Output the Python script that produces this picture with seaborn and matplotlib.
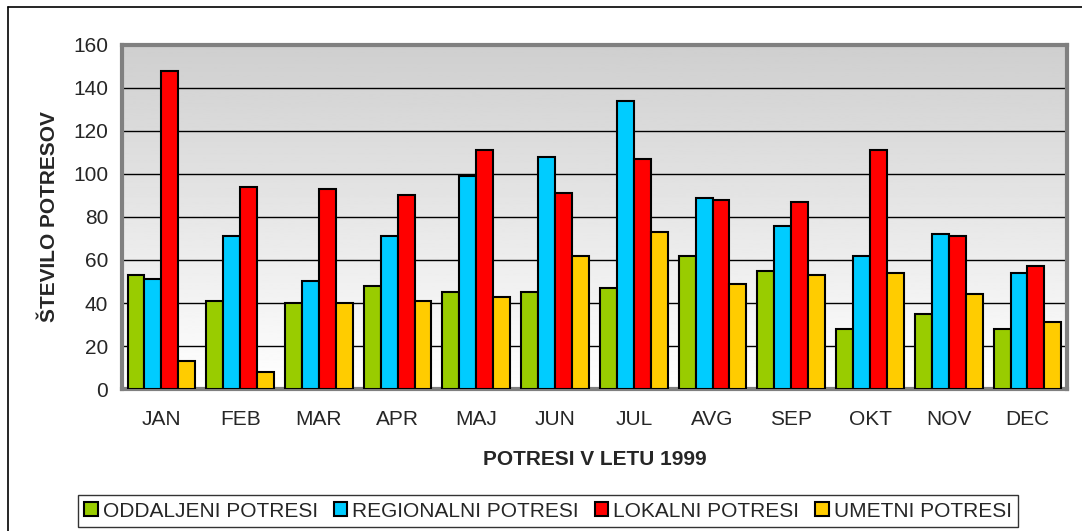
import pandas as pd
import matplotlib.pyplot as plt
import numpy as np
import seaborn as sns
from matplotlib.lines import Line2D
from matplotlib.patches import Patch

# PODATKI
meseci = ["JAN", "FEB", "MAR", "APR", "MAJ", "JUN", "JUL", "AVG", "SEP", "OKT", "NOV", "DEC"]
oddaljeni = [53, 41, 40, 48, 45, 45, 47, 62, 55, 28, 35, 28]
regionalni = [51, 71, 50, 71, 99, 108, 134, 89, 76, 62, 72, 54]
lokalni = [148, 94, 93, 90, 111, 91, 107, 88, 87, 111, 71, 57]
umetni = [13, 8, 40, 41, 43, 62, 73, 49, 53, 54, 44, 31]

serije = ["ODDALJENI POTRESI", "REGIONALNI POTRESI", "LOKALNI POTRESI", "UMETNI POTRESI"]
barve = ["#99cc00", "#00ccff", "#ff0000", "#ffcc00"]

df = pd.DataFrame({
    "mesec": meseci * 4,
    "vrsta": np.repeat(serije, len(meseci)),
    "stevilo": oddaljeni + regionalni + lokalni + umetni,
})

sns.set_style("white")
plt.rcParams["font.family"] = ["Liberation Sans", "DejaVu Sans"]

fig = plt.figure(figsize=(10.82, 5.31), dpi=100)
ax = fig.add_axes([0.1128, 0.2674, 0.8732, 0.6479])

# Gradient v ozadju (temnejše zgoraj)
grad = np.linspace(1.0, 0.81, 256).reshape(-1, 1)
ax.imshow(grad, extent=[0, 1, 0, 1], transform=ax.transAxes, cmap="gray",
          vmin=0, vmax=1, aspect="auto", origin="lower", zorder=0)

sns.barplot(data=df, x="mesec", y="stevilo", hue="vrsta", palette=barve,
            saturation=1, width=0.86, edgecolor="black", linewidth=1.5,
            ax=ax, zorder=3, legend=False)

ax.set_ylim(0, 160)
ax.set_xlim(-0.5, 11.5)
ax.set_yticks(range(0, 161, 20))
for v in range(20, 160, 20):
    ax.axhline(v, color="black", linewidth=1, zorder=1)

for s in ax.spines.values():
    s.set_color("#808080")
    s.set_linewidth(3)

ax.tick_params(axis="both", length=0, labelsize=15)
ax.tick_params(axis="y", pad=10)
ax.tick_params(axis="x", pad=15)

ax.set_ylabel("ŠTEVILO POTRESOV", fontsize=15, fontweight="bold", labelpad=10)
ax.set_xlabel("POTRESI V LETU 1999", fontsize=15, fontweight="bold", labelpad=15)

# Legenda
roki = [Patch(facecolor=b, edgecolor="black", linewidth=1.5) for b in barve]
leg = fig.legend(roki, serije, loc="lower center", bbox_to_anchor=(0.5065, -0.012),
                 ncol=4, fontsize=15, frameon=True, fancybox=False,
                 edgecolor="black", handlelength=0.65, handleheight=0.65,
                 handletextpad=0.25, columnspacing=0.75, borderpad=0.3)
leg.get_frame().set_linewidth(1)

# Okvir slike
fig.add_artist(Line2D([8 / 1082, 8 / 1082], [0, 1 - 7 / 531], color="black",
                      linewidth=1.2, transform=fig.transFigure))
fig.add_artist(Line2D([8 / 1082, 1], [1 - 7 / 531, 1 - 7 / 531], color="black",
                      linewidth=1.2, transform=fig.transFigure))

plt.savefig("out.png", dpi=100)
